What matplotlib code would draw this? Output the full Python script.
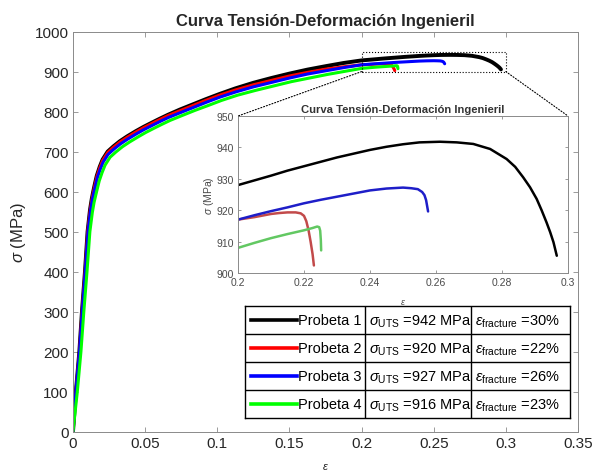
import matplotlib

matplotlib.use("Agg")

import matplotlib.pyplot as plt
from matplotlib.patches import ConnectionPatch, Rectangle

W, H = 598, 477

# engineering strain / stress (MPa)
eps_1 = [0, 0.002, 0.0044, 0.0062, 0.0083, 0.0101, 0.0118, 0.0130, 0.0140, 0.0152, 0.0165,
         0.0185, 0.0205, 0.0240, 0.0280, 0.0325, 0.0375, 0.0435, 0.049, 0.055, 0.060, 0.0658,
         0.074, 0.083, 0.092, 0.1015, 0.1125, 0.125, 0.1375, 0.150, 0.1625, 0.175, 0.1875,
         0.200, 0.205, 0.210, 0.215, 0.220, 0.225, 0.230, 0.235, 0.240, 0.245, 0.250, 0.255,
         0.2612, 0.2663, 0.2713, 0.2764, 0.2814, 0.2840, 0.2864, 0.2885, 0.2905, 0.2920,
         0.2935, 0.2946, 0.2956, 0.2966]
sig_1 = [0, 100, 200, 300, 400, 500, 555, 582, 600, 620, 640,
         662, 680, 700, 713, 726, 738, 751, 762, 773, 782, 792,
         805, 818, 831, 844, 858, 872, 884, 895, 905, 913.5, 921.5,
         928, 929.5, 931, 932.6, 934, 935.4, 936.8, 938, 939.2, 940.2, 941, 941.6,
         941.8, 941.6, 941.1, 939.5, 936.3, 933.8, 930.5, 927.3, 923.6, 920,
         916.1, 913, 909.8, 905.5]

eps_2 = [0, 0.002, 0.0045, 0.0063, 0.0084, 0.0102, 0.0119, 0.0131, 0.0141, 0.0153, 0.0166,
         0.0186, 0.0206, 0.0241, 0.0281, 0.0326, 0.0376, 0.0436, 0.049, 0.055, 0.060, 0.0658,
         0.074, 0.083, 0.092, 0.1015, 0.1125, 0.125, 0.1375, 0.150, 0.1625, 0.175, 0.1875,
         0.200, 0.2025, 0.205, 0.2075, 0.210, 0.2125, 0.215, 0.2175, 0.219, 0.2200, 0.2207,
         0.2214, 0.2220, 0.2226, 0.2230]
sig_2 = [0, 100, 200, 300, 400, 500, 553, 580, 598, 618, 638,
         660, 678, 698, 711, 724, 736, 749, 760, 771, 780, 790,
         802, 815, 828, 841, 854, 867, 878, 889, 898, 906, 912,
         917, 917.4, 917.8, 918.3, 918.8, 919.1, 919.3, 919.3, 919.0, 918.2, 916.5,
         913.5, 910, 906, 902.4]

eps_3 = [0, 0.002, 0.0045, 0.0064, 0.0085, 0.0104, 0.0121, 0.0133, 0.0143, 0.0155, 0.0168,
         0.0188, 0.0208, 0.0243, 0.0283, 0.0328, 0.0378, 0.0438, 0.0492, 0.0552, 0.0602, 0.066,
         0.0742, 0.0832, 0.0922, 0.1017, 0.1127, 0.1252, 0.1377, 0.1502, 0.1627, 0.1752, 0.1877,
         0.200, 0.205, 0.210, 0.215, 0.220, 0.225, 0.230, 0.235, 0.240, 0.245, 0.250, 0.2525,
         0.2545, 0.2558, 0.2565, 0.2570, 0.2576]
sig_3 = [0, 100, 200, 300, 400, 500, 552, 578, 595, 614, 634,
         655, 673, 693, 706, 719, 731, 744, 755, 766, 775, 785,
         797, 810, 823, 836, 849, 862, 873, 884, 894, 902, 910,
         917, 918.4, 919.7, 920.9, 922.2, 923.3, 924.3, 925.3, 926.3, 926.9, 927.2, 927,
         926.7, 925.8, 924.8, 923.2, 919.6]

eps_4 = [0, 0.003, 0.0055, 0.0075, 0.0097, 0.0117, 0.0134, 0.0146, 0.0157, 0.0169, 0.0182,
         0.0202, 0.0222, 0.0257, 0.0297, 0.0342, 0.0392, 0.0452, 0.0505, 0.0565, 0.0615, 0.0673,
         0.0755, 0.0845, 0.0935, 0.103, 0.114, 0.1265, 0.139, 0.1515, 0.164, 0.1765, 0.189,
         0.200, 0.205, 0.210, 0.215, 0.220, 0.2225, 0.224, 0.2246, 0.2249, 0.2251, 0.2252]
sig_4 = [0, 100, 200, 300, 400, 500, 548, 573, 590, 608, 627,
         648, 666, 686, 699, 712, 724, 737, 748, 759, 768, 778,
         790, 803, 815, 828, 841, 853, 864, 875, 884, 893, 901,
         908, 909.6, 911.1, 912.4, 913.6, 914.3, 914.8, 914.6, 913.5, 910.5, 907.2]

labels = ["Probeta 1", "Probeta 2", "Probeta 3", "Probeta 4"]
uts = [942, 920, 927, 916]
fracture = [30, 22, 26, 23]
colors = ["#000000", "#FF0000", "#0000FF", "#00FF00"]
inset_colors = ["#000000", "#C24A4A", "#1E1EC8", "#62C862"]

x_ticks = [0, 0.05, 0.1, 0.15, 0.2, 0.25, 0.3, 0.35]
x_tick_labels = ["0", "0.05", "0.1", "0.15", "0.2", "0.25", "0.3", "0.35"]
y_ticks = [0, 100, 200, 300, 400, 500, 600, 700, 800, 900, 1000]
inset_x_ticks = [0.2, 0.22, 0.24, 0.26, 0.28, 0.3]
inset_x_labels = ["0.2", "0.22", "0.24", "0.26", "0.28", "0.3"]
inset_y_ticks = [900, 910, 920, 930, 940, 950]

AXIS_GRAY = "#8a8a8a"
TEXT_GRAY = "#262626"


def px_box(left, top, right, bottom):
    return [left / W, 1 - bottom / H, (right - left) / W, (bottom - top) / H]


def style_axes(ax, size):
    for sp in ax.spines.values():
        sp.set_color(AXIS_GRAY)
        sp.set_linewidth(0.7)
    ax.tick_params(direction="in", top=True, right=True, length=3.5, width=0.6,
                   color=AXIS_GRAY, labelcolor=TEXT_GRAY, labelsize=size, pad=3)


def main():
    plt.rcParams.update({
        "font.family": ["Liberation Sans", "DejaVu Sans"],
        "mathtext.fontset": "custom",
        "mathtext.rm": "Liberation Sans",
        "mathtext.it": "Liberation Sans:italic",
        "mathtext.bf": "Liberation Sans:bold",
    })

    series = [(eps_1, sig_1), (eps_2, sig_2), (eps_3, sig_3), (eps_4, sig_4)]

    fig = plt.figure(figsize=(W / 100, H / 100), dpi=100, facecolor="white")

    ax = fig.add_axes(px_box(73, 32.6, 578, 432.6))
    for (e, s), c in zip(series, colors):
        ax.plot(e, s, color=c, lw=2.8 if c == "#000000" else 2.2,
                solid_capstyle="round", solid_joinstyle="round")
    ax.set_xlim(0, 0.35)
    ax.set_ylim(0, 1000)
    ax.set_xticks(x_ticks, x_tick_labels)
    ax.set_yticks(y_ticks)
    style_axes(ax, 11)
    ax.set_title("Curva Tensión-Deformación Ingenieril", fontsize=12, weight="bold",
                 color=TEXT_GRAY, pad=5)
    ax.set_ylabel(r"$\sigma$ (MPa)", fontsize=12, color=TEXT_GRAY, labelpad=5)
    ax.set_xlabel(r"$\epsilon$", fontsize=8, color=TEXT_GRAY, labelpad=8)

    ax.add_patch(Rectangle((0.2, 900), 0.1, 50, fill=False, ls=":", lw=0.8, ec="black", zorder=5))

    ins = fig.add_axes(px_box(238, 117, 568, 274))
    for (e, s), c in zip(series, inset_colors):
        ins.plot(e, s, color=c, lw=1.8, solid_capstyle="round", solid_joinstyle="round")
    ins.set_xlim(0.2, 0.3)
    ins.set_ylim(900, 950)
    ins.set_xticks(inset_x_ticks, inset_x_labels)
    ins.set_yticks(inset_y_ticks)
    style_axes(ins, 7.5)
    ins.tick_params(labelcolor="#4a4a4a", length=2.5)
    ins.set_title("Curva Tensión-Deformación Ingenieril", fontsize=8.1, weight="bold",
                  color="#333333", pad=3)
    ins.set_ylabel(r"$\sigma$ (MPa)", fontsize=7.5, color="#4a4a4a", labelpad=0)
    ins.set_xlabel(r"$\epsilon$", fontsize=6.5, color="#4a4a4a", labelpad=7)

    for xa, xb in [(0.2, 0.0), (0.3, 1.0)]:
        con = ConnectionPatch(xyA=(xa, 900), coordsA=ax.transData,
                              xyB=(xb, 1.0), coordsB=ins.transAxes,
                              ls=":", lw=0.8, color="black")
        fig.add_artist(con)

    tab = fig.add_axes(px_box(245, 307, 570, 419))
    tab.set_xlim(0, 325)
    tab.set_ylim(112, 0)
    tab.set_xticks([])
    tab.set_yticks([])
    for sp in tab.spines.values():
        sp.set_color("black")
        sp.set_linewidth(1.0)
    for cx in [120, 226]:
        tab.axvline(cx, color="black", lw=1.0)
    row_h = 112 / 4
    for i in range(1, 4):
        tab.axhline(i * row_h, color="black", lw=1.0)
    for i, (lab, u, f, c) in enumerate(zip(labels, uts, fracture, colors)):
        yc = (i + 0.5) * row_h
        tab.plot([6, 52], [yc, yc], color=c, lw=2.6)
        tab.text(116, yc, lab, ha="right", va="center", fontsize=10.5, color="black")
        tab.text(124, yc + 1, r"$\sigma_{\mathrm{UTS}}$ =%d MPa" % u, ha="left", va="center",
                 fontsize=10.5, color="black")
        tab.text(230, yc + 1, r"$\epsilon_{\mathrm{fracture}}$ =%d%%" % f, ha="left", va="center",
                 fontsize=10.5, color="black")

    fig.savefig("out.png", dpi=100, facecolor="white")
    plt.close(fig)


if __name__ == "__main__":
    main()
